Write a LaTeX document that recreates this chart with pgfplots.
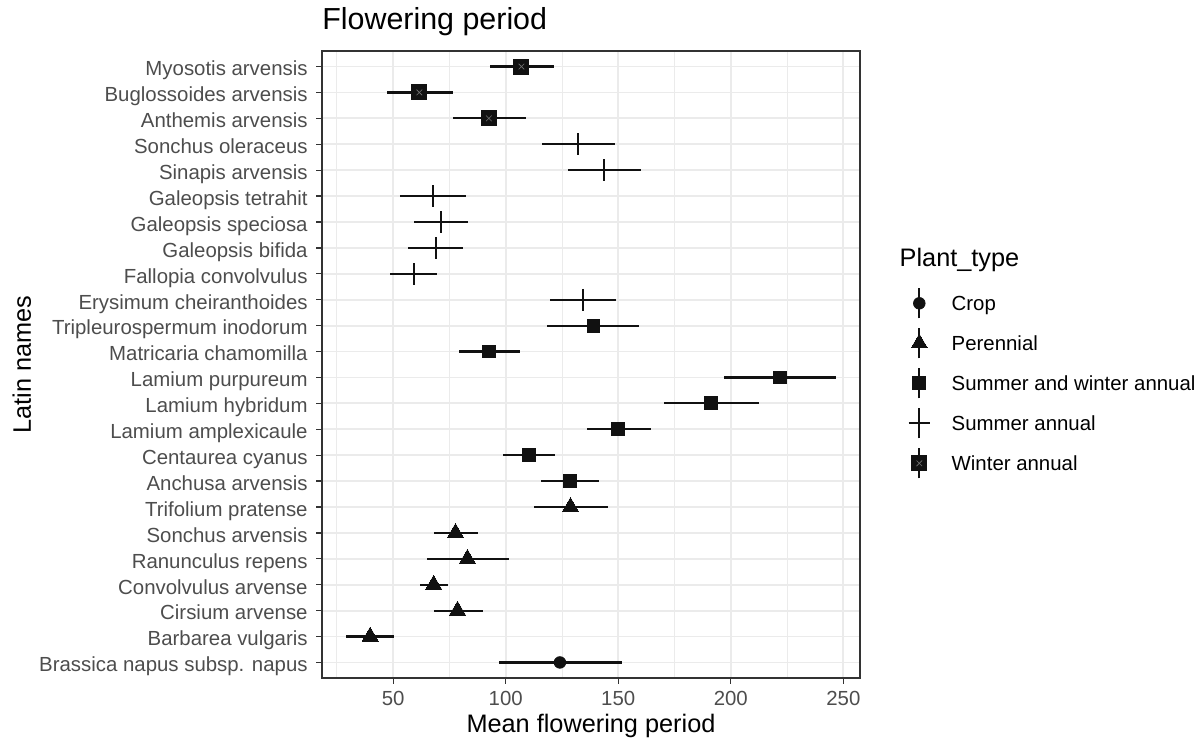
\documentclass[border=0pt]{standalone}
\usepackage{fontspec}
\setmainfont{Liberation Sans}
\usepackage{pgfplots}
\usepackage{pgfplotstable}
\pgfplotsset{compat=1.18}
\definecolor{gridc}{HTML}{EBEBEB}
\definecolor{framec}{HTML}{333333}
\definecolor{ticktext}{HTML}{4D4D4D}
\definecolor{ptc}{HTML}{111111}

\pgfdeclareplotmark{sqx}{%
  \pgfpathrectangle{\pgfpoint{-\pgfplotmarksize}{-\pgfplotmarksize}}{\pgfpoint{2\pgfplotmarksize}{2\pgfplotmarksize}}%
  \pgfusepathqfill
  \pgfsetlinewidth{0.3pt}%
  \pgfsetstrokecolor{black!55}%
  \pgfpathmoveto{\pgfpoint{-0.35\pgfplotmarksize}{-0.35\pgfplotmarksize}}%
  \pgfpathlineto{\pgfpoint{0.35\pgfplotmarksize}{0.35\pgfplotmarksize}}%
  \pgfpathmoveto{\pgfpoint{-0.35\pgfplotmarksize}{0.35\pgfplotmarksize}}%
  \pgfpathlineto{\pgfpoint{0.35\pgfplotmarksize}{-0.35\pgfplotmarksize}}%
  \pgfusepathqstroke
}

\pgfplotstableread{
y m lo hi
0 124.1 97.1 151.6
}\crop
\pgfplotstableread{
y m lo hi
1 39.8 29.2 50.6
2 78.6 68.0 90.0
3 68.0 61.8 74.3
4 83.0 65.0 101.5
5 77.7 68.0 87.5
6 128.8 112.5 145.5
}\perennial
\pgfplotstableread{
y m lo hi
7 128.6 115.5 141.6
8 110.4 99.0 122.0
9 150.0 135.9 164.7
10 191.3 170.2 212.6
11 221.8 197.1 246.6
12 92.7 79.3 106.5
13 139.0 118.4 159.4
}\sumwin
\pgfplotstableread{
y m lo hi
14 134.3 119.9 149.0
15 59.1 48.7 69.3
16 68.9 56.5 81.2
17 71.2 59.2 83.3
18 67.8 52.9 82.5
19 143.8 127.8 160.0
20 132.0 116.0 148.4
}\summer
\pgfplotstableread{
y m lo hi
21 92.55 76.4 108.9
22 61.65 47.1 76.4
23 107.0 92.9 121.4
}\winter

\newcommand{\ticksize}{\fontsize{10.2}{12}\selectfont}
\newcommand{\labsize}{\fontsize{12.65}{15}\selectfont}

\begin{document}
\begin{tikzpicture}
\begin{axis}[
  name=ax, at={(0,0)}, anchor=south west,
  width=269pt, height=313.5pt, scale only axis,
  xmin=18.4, xmax=257.4, ymin=-0.6, ymax=23.6,
  xtick={50,100,150,200,250},
  minor xtick={25,75,125,175,225},
  ytick={0,...,23},
  yticklabels={Brassica napus subsp. napus, Barbarea vulgaris, Cirsium arvense, Convolvulus arvense, Ranunculus repens, Sonchus arvensis, Trifolium pratense, Anchusa arvensis, Centaurea cyanus, Lamium amplexicaule, Lamium hybridum, Lamium purpureum, Matricaria chamomilla, Tripleurospermum inodorum, Erysimum cheiranthoides, Fallopia convolvulus, Galeopsis bifida, Galeopsis speciosa, Galeopsis tetrahit, Sinapis arvensis, Sonchus oleraceus, Anthemis arvensis, Buglossoides arvensis, Myosotis arvensis},
  /pgf/number format/assume math mode=true,
  tick pos=left,
  tick align=outside,
  major tick length=2.75pt,
  minor tick length=0pt,
  tick style={framec, line width=0.6pt},
  grid=both,
  major grid style={gridc, line width=0.9pt},
  minor grid style={gridc, line width=0.45pt},
  axis line style={framec, line width=0.6pt},
  xticklabel style={anchor=base, inner sep=0pt, yshift=-11.1pt, font=\ticksize, text=ticktext},
  yticklabel style={anchor=base east, inner sep=0pt, xshift=-4.25pt, yshift=-4.65pt, font=\ticksize, text=ticktext},
  every axis title/.style={at={(rel axis cs:0,1)}, anchor=base west, inner sep=0pt, yshift=10.5pt, font=\fontsize{15.2}{18}\selectfont},
  title={Flowering period},
  xlabel={Mean flowering period},
  xlabel style={at={(rel axis cs:0.5,0)}, anchor=base, inner sep=0pt, yshift=-27.35pt, font=\labsize},
  ylabel={Latin names},
  ylabel style={at={(rel axis cs:-0.54089,0.5)}, anchor=base, inner sep=0pt, font=\labsize},
  legend style={at={(rel axis cs:1.0842,0.6295)}, anchor=north west, draw=none, fill=none,
    inner sep=0pt, outer sep=0pt, row sep=0pt, column sep=9.2pt, font=\ticksize,
    nodes={inner sep=0pt, draw=none}, cells={anchor=base west}},
  legend image code/.code={
    \path[draw=none, fill=none] (0pt,-6.3pt) rectangle (14pt,13.7pt);
    \draw[line width=1.1pt, ptc] (7pt,-3.8pt) -- (7pt,11.2pt);
    \draw[#1] plot coordinates {(7pt,3.7pt)};
  },
  clip=false,
]
\addplot[only marks, ptc, mark=*, mark size=2.9pt, mark options={fill=ptc, draw=ptc},
  error bars/.cd, x dir=both, x explicit, error mark=none, error bar style={line width=1.1pt, ptc}]
  table[x=m, y=y, x error plus expr=\thisrow{hi}-\thisrow{m}, x error minus expr=\thisrow{m}-\thisrow{lo}] {\crop};
\addlegendentry{Crop}
\addplot[only marks, ptc, mark=triangle*, mark size=4.7pt, mark options={fill=ptc, draw=ptc, line width=0pt},
  error bars/.cd, x dir=both, x explicit, error mark=none, error bar style={line width=1.1pt, ptc}]
  table[x=m, y=y, x error plus expr=\thisrow{hi}-\thisrow{m}, x error minus expr=\thisrow{m}-\thisrow{lo}] {\perennial};
\addlegendentry{Perennial}
\addplot[only marks, ptc, mark=square*, mark size=3.2pt, mark options={fill=ptc, draw=ptc, line width=0pt},
  error bars/.cd, x dir=both, x explicit, error mark=none, error bar style={line width=1.1pt, ptc}]
  table[x=m, y=y, x error plus expr=\thisrow{hi}-\thisrow{m}, x error minus expr=\thisrow{m}-\thisrow{lo}] {\sumwin};
\addlegendentry{Summer and winter annual}
\addplot[only marks, ptc, mark=+, mark size=5.4pt, mark options={draw=ptc, line width=1.1pt},
  error bars/.cd, x dir=both, x explicit, error mark=none, error bar style={line width=1.1pt, ptc}]
  table[x=m, y=y, x error plus expr=\thisrow{hi}-\thisrow{m}, x error minus expr=\thisrow{m}-\thisrow{lo}] {\summer};
\addlegendentry{Summer annual}
\addplot[only marks, ptc, mark=sqx, mark size=4pt, mark options={fill=ptc, draw=ptc},
  error bars/.cd, x dir=both, x explicit, error mark=none, error bar style={line width=1.1pt, ptc}]
  table[x=m, y=y, x error plus expr=\thisrow{hi}-\thisrow{m}, x error minus expr=\thisrow{m}-\thisrow{lo}] {\winter};
\addlegendentry{Winter annual}
\end{axis}
\node[anchor=base west, inner sep=0pt, font=\labsize] at ([xshift=288.65pt, yshift=205.65pt]ax.south west) {Plant\_type};
\pgfresetboundingbox
\useasboundingbox ([xshift=-161pt, yshift=-32.5pt]ax.south west) rectangle ++(601.5pt,371.5pt);
\end{tikzpicture}
\end{document}
